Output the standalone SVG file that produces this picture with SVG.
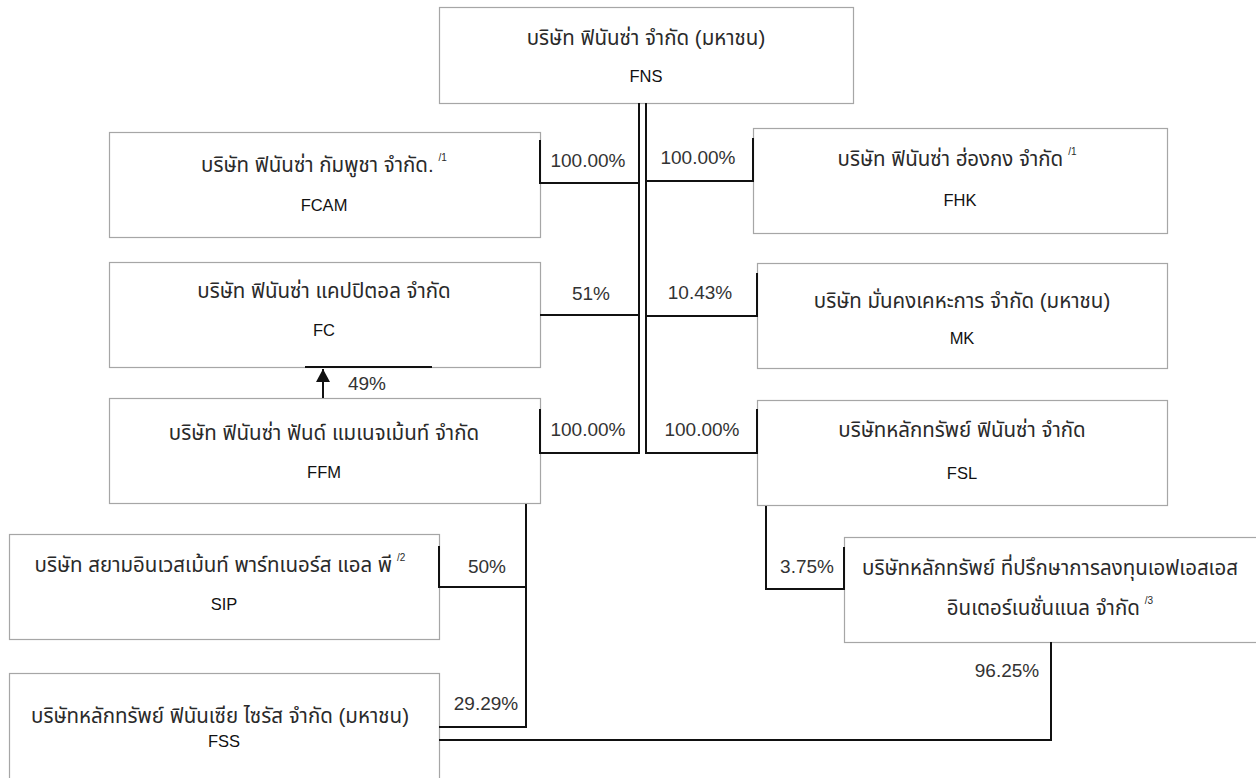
<svg xmlns="http://www.w3.org/2000/svg" width="1256" height="778" viewBox="0 0 1256 778">
<defs>
<style>
.box{fill:#ffffff;stroke:#a6a6a6;stroke-width:1.2}
.th{font-family:"Liberation Sans","Noto Sans Thai","DejaVu Sans",sans-serif;font-size:20.5px;fill:#2a2a2a;text-anchor:middle}
.en{font-family:"Liberation Sans",Arial,sans-serif;font-size:16.5px;fill:#111;text-anchor:middle}
.pct{font-family:"Liberation Sans",Arial,sans-serif;font-size:19px;fill:#333;text-anchor:middle}
.sup{font-size:10px}
.ln{fill:none;stroke:#111;stroke-width:2}
</style>
<marker id="arr" viewBox="0 0 14 15" refX="14" refY="7.5" markerWidth="15" markerHeight="14" orient="auto" markerUnits="userSpaceOnUse">
<path d="M0,0 L14,7.5 L0,15 z" fill="#111"/>
</marker>
</defs>
<rect width="1256" height="778" fill="#ffffff"/>

<g id="FNS">
<rect class="box" x="439.5" y="7.5" width="414" height="96"/>
<text class="th" x="646" y="45">บริษัท ฟินันซ่า จำกัด (มหาชน)</text>
<text class="en" x="646" y="82">FNS</text>
</g>

<g id="FCAM">
<rect class="box" x="109.5" y="132.5" width="431" height="105"/>
<text class="th" x="324" y="172">บริษัท ฟินันซ่า กัมพูชา จำกัด.<tspan class="sup" dx="5" dy="-11">/1</tspan></text>
<text class="en" x="324" y="211">FCAM</text>
</g>

<g id="FHK">
<rect class="box" x="753.5" y="128.5" width="414" height="105"/>
<text class="th" x="957" y="166">บริษัท ฟินันซ่า ฮ่องกง จำกัด<tspan class="sup" dx="5" dy="-11">/1</tspan></text>
<text class="en" x="960" y="206">FHK</text>
</g>

<g id="FC">
<rect class="box" x="109.5" y="262.5" width="431" height="105"/>
<text class="th" x="324" y="298">บริษัท ฟินันซ่า แคปปิตอล จำกัด</text>
<text class="en" x="324" y="336">FC</text>
</g>

<g id="MK">
<rect class="box" x="757.5" y="263.5" width="410" height="105"/>
<text class="th" x="962" y="308">บริษัท มั่นคงเคหะการ จำกัด (มหาชน)</text>
<text class="en" x="962" y="344">MK</text>
</g>

<g id="FFM">
<rect class="box" x="109.5" y="398.5" width="431" height="105"/>
<text class="th" x="324" y="440">บริษัท ฟินันซ่า ฟันด์ แมเนจเม้นท์ จำกัด</text>
<text class="en" x="324" y="478">FFM</text>
</g>

<g id="FSL">
<rect class="box" x="757.5" y="400.5" width="410" height="105"/>
<text class="th" x="962" y="437">บริษัทหลักทรัพย์ ฟินันซ่า จำกัด</text>
<text class="en" x="962" y="479">FSL</text>
</g>

<g id="SIP">
<rect class="box" x="9.5" y="534.5" width="430" height="105"/>
<text class="th" x="220" y="572">บริษัท สยามอินเวสเม้นท์ พาร์ทเนอร์ส แอล พี<tspan class="sup" dx="5" dy="-11">/2</tspan></text>
<text class="en" x="224" y="610">SIP</text>
</g>

<g id="FSSI">
<rect class="box" x="844.5" y="537.5" width="420" height="105"/>
<text class="th" x="1050" y="575">บริษัทหลักทรัพย์ ที่ปรึกษาการลงทุนเอฟเอสเอส</text>
<text class="th" x="1050" y="615">อินเตอร์เนชั่นแนล จำกัด<tspan class="sup" dx="5" dy="-11">/3</tspan></text>
</g>

<g id="FSS">
<rect class="box" x="9.5" y="673.5" width="430" height="110"/>
<text class="th" x="220" y="723">บริษัทหลักทรัพย์ ฟินันเซีย ไซรัส จำกัด (มหาชน)</text>
<text class="en" x="224" y="747">FSS</text>
</g>

<g id="connectors">
<path class="ln" d="M639,103 V454"/>
<path class="ln" d="M646,103 V454"/>
<path class="ln" d="M540,140 V183 H639"/>
<path class="ln" d="M753,138 V181 H646"/>
<path class="ln" d="M540,315 H639"/>
<path class="ln" d="M757,273 V316 H646"/>
<path class="ln" d="M540,409 V453 H639"/>
<path class="ln" d="M757,409 V453 H646"/>
<path class="ln" d="M305,367 H432"/>
<path class="ln" d="M323,398 V369" marker-end="url(#arr)"/>
<path class="ln" d="M526,504 V727 H439"/>
<path class="ln" d="M439,546 V587 H526"/>
<path class="ln" d="M439,740 H1051 V642"/>
<path class="ln" d="M766,506 V589 H844 V547"/>
<text class="pct" x="588" y="167">100.00%</text>
<text class="pct" x="698" y="164">100.00%</text>
<text class="pct" x="591" y="300">51%</text>
<text class="pct" x="700" y="299">10.43%</text>
<text class="pct" x="588" y="436">100.00%</text>
<text class="pct" x="702" y="436">100.00%</text>
<text class="pct" x="367" y="390">49%</text>
<text class="pct" x="487" y="573">50%</text>
<text class="pct" x="486" y="710">29.29%</text>
<text class="pct" x="807" y="573">3.75%</text>
<text class="pct" x="1007" y="677">96.25%</text>
</g>
</svg>
